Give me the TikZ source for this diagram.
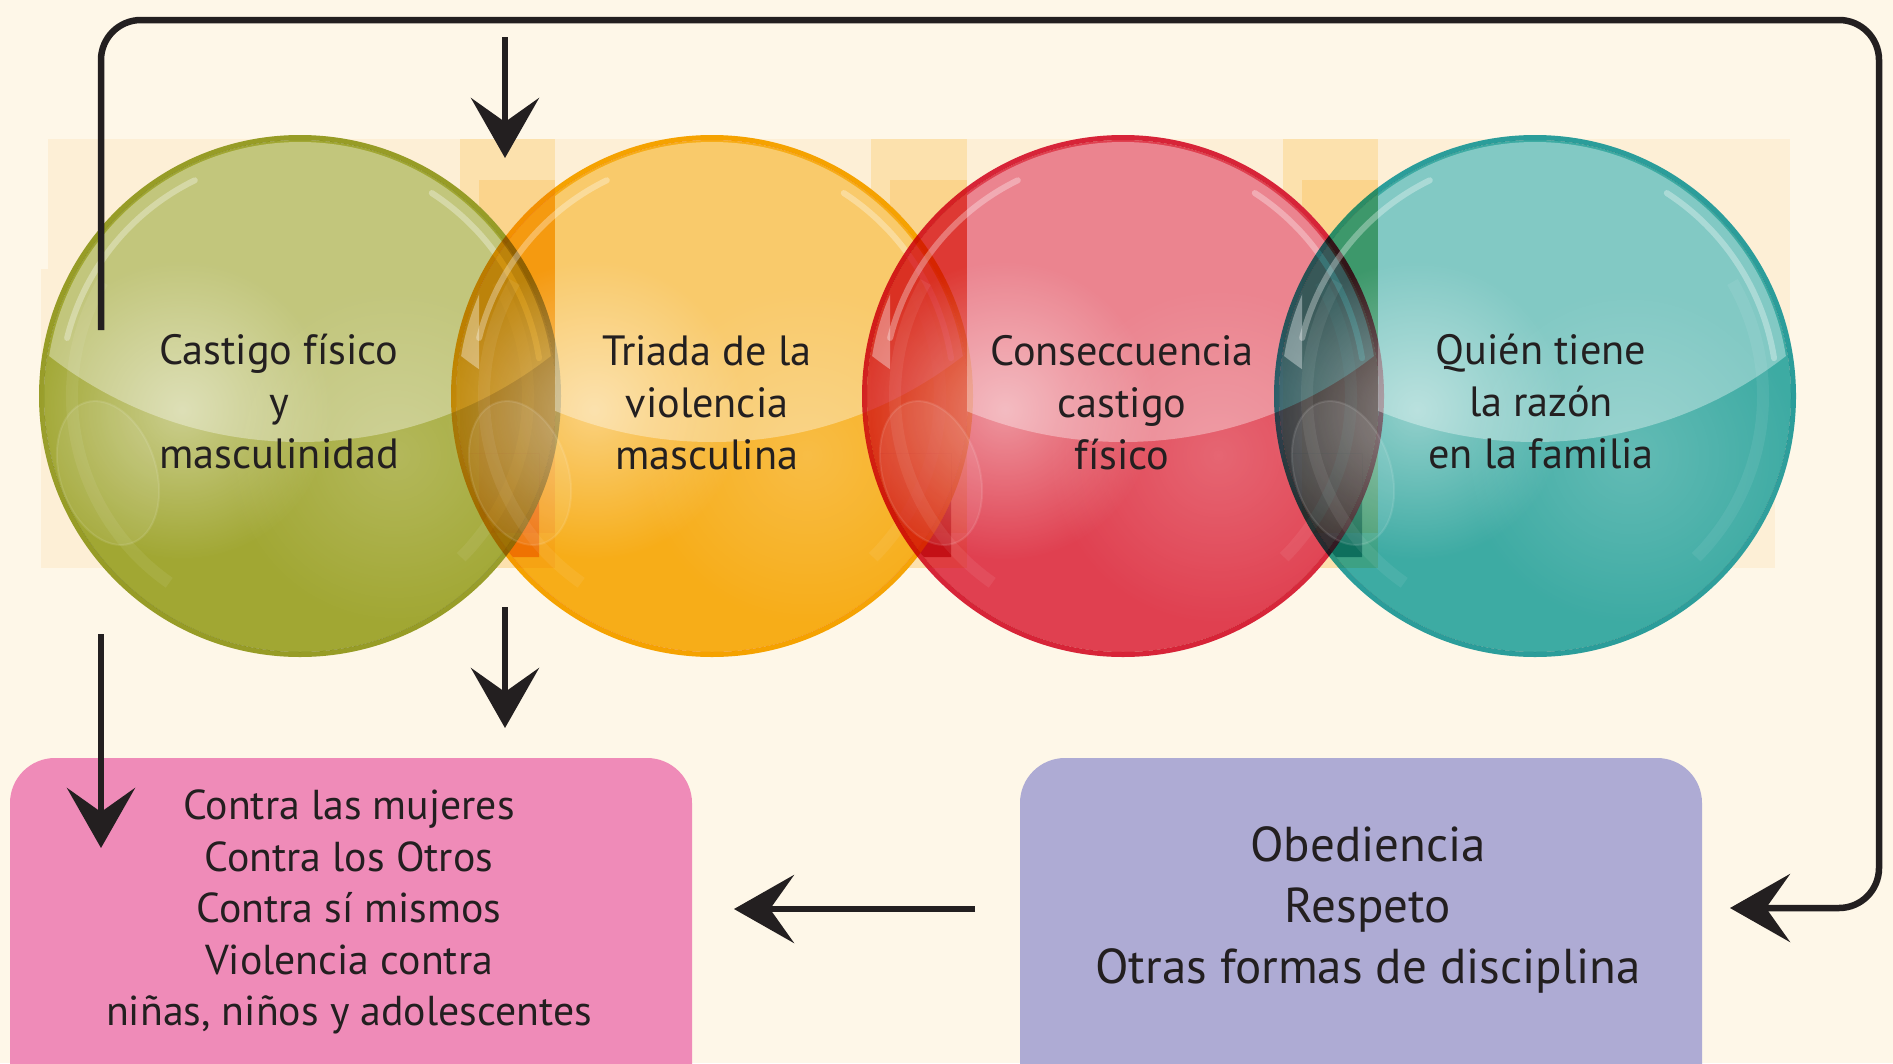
\documentclass[tikz,border=0pt]{standalone}
\usepackage{fontspec}
\setmainfont{PT Sans}
\usetikzlibrary{arrows.meta,fadings}
\definecolor{bg}{RGB}{254,247,232}
\definecolor{band}{RGB}{253,239,214}
\definecolor{ghost}{RGB}{254,241,207}
\definecolor{ink}{RGB}{35,31,32}
\definecolor{cgreen}{RGB}{162,173,57}
\definecolor{lgreen}{RGB}{152,162,42}
\definecolor{corange}{RGB}{248,179,27}
\definecolor{lorange}{RGB}{246,168,0}
\definecolor{cred}{RGB}{225,67,88}
\definecolor{lred}{RGB}{216,38,62}
\definecolor{cteal}{RGB}{62,177,180}
\definecolor{lteal}{RGB}{44,163,170}
\definecolor{cpink}{RGB}{239,139,184}
\definecolor{cpurple}{RGB}{174,171,212}
\tikzfading[name=glowfade, inner color=transparent!0, outer color=transparent!100]
\begin{document}
\begin{tikzpicture}[x=1pt,y=-1pt,
  conn/.style={draw=ink, line width=6.5pt, -{Stealth[length=60pt,width=68pt,inset=24pt]}},
  ctext/.style={align=center, text=ink, font=\fontsize{42.3}{52}\selectfont, inner sep=0pt},
  ptext/.style={align=center, text=ink, font=\fontsize{41.8}{51.5}\selectfont, inner sep=0pt},
  vtext/.style={align=center, text=ink, font=\fontsize{49}{61}\selectfont, inner sep=0pt},
  roundbox/.style={rectangle, rounded corners=45pt, minimum width=682pt, minimum height=420pt, inner sep=0pt},
  bubble/.style={circle, minimum size=512pt, inner sep=0pt, outer sep=0pt},
  streak/.style={white, line width=6pt, line cap=round, draw opacity=0.32},
  ringhl/.style={white, line width=12pt, draw opacity=0.07},
]
\useasboundingbox (0,0) rectangle (1893,1063);
\fill[bg] (0,0) rectangle (1893,1063);
\begin{scope}
\clip (0,0) rectangle (1893,1063);
% faint background band
\fill[band] (48,139) rectangle (1790,373);
\fill[band] (41,269) rectangle (1775,568);
\begin{scope}[blend mode=multiply]
\foreach \a/\b in {300/712,712/1123,1123/1535}{
  \fill[ghost] (\b-252,139) rectangle (\a+255,568);
  \fill[ghost] (\b-233,180) rectangle (\a+255,533);
}
\end{scope}
% knock out band under circles
\foreach \cx in {300,712,1123,1535} \fill[bg] (\cx,396) circle (261);
\begin{scope}[blend mode=multiply]
\foreach \a/\b in {300/712,712/1123,1123/1535}{
  \begin{scope}
  \clip (\b,396) circle (261);
  \fill[ghost] (\b-252,139) rectangle (\a+255,568);
  \fill[ghost] (\b-233,180) rectangle (\a+255,533);
  \end{scope}
}
\end{scope}
% bubbles
\foreach \cx/\fc/\lc/\nm/\pv/\sl/\sr in {300/cgreen/lgreen/c1/0/0/0, 712/corange/lorange/c2/300/479/555, 1123/cred/lred/c3/712/890/967, 1535/cteal/lteal/c4/1123/1302/1378}{
  \begin{scope}[blend mode=multiply]
    \node[bubble, fill=\fc] (\nm) at (\cx,396) {};
    \draw[\lc, line width=5pt] (\cx,396) circle (258.5);
  \end{scope}
  \ifnum\pv>0
  \begin{scope}[blend mode=multiply]
    \clip (\cx,396) circle (256);
    \clip (\cx-243,453) rectangle (\pv+239,557);
    \fill[\fc, even odd rule] (\cx-243,453) rectangle (\pv+239,557) (\pv,396) circle (261);
  \end{scope}
  \fi
  % glossy cap
  \begin{scope}
    \clip (\cx,396) circle (254);
    \clip (\cx,33) circle (409);
    \fill[white, fill opacity=0.36, even odd rule] (-10,-10) rectangle (1900,1100) (\sl,180) rectangle (\sr,453);
  \end{scope}
  % soft glows
  \fill[white, fill opacity=0.45, path fading=glowfade] (\cx-118,410) circle (150);
  \fill[white, fill opacity=0.2, path fading=glowfade] (\cx+95,455) circle (170);
  % streaks
  \draw[streak] (\cx,396) ++(-116:240) arc[start angle=-116, end angle=-166, radius=240];
  \draw[streak] (\cx,396) ++(-57:242) arc[start angle=-57, end angle=-9, radius=242];
  % inner light ring
  \draw[ringhl] (\cx,396) ++(-150:228) arc[start angle=-150, end angle=-235, radius=228];
  \draw[ringhl] (\cx,396) ++(45:228) arc[start angle=45, end angle=-30, radius=228];
  % lower-left oval
  \fill[white, fill opacity=0.09, rotate around={18:(\cx-192,473)}] (\cx-192,473) ellipse[x radius=48, y radius=74];
  \draw[white, draw opacity=0.1, line width=2pt, rotate around={18:(\cx-192,473)}] (\cx-192,473) ellipse[x radius=48, y radius=74];
}
% texts in bubbles
\node[ctext] (t1) at (279,402) {Castigo físico\\y\\masculinidad};
\node[ctext] (t2) at (707,403) {Triada de la\\violencia\\masculina};
\node[ctext] (t3) at (1122,403) {Conseccuencia\\castigo\\físico};
\node[ctext] (t4) at (1541,402) {Quién tiene\\la razón\\en la familia};
% boxes
\node[roundbox, fill=cpink] (pinkbox) at (351,968) {};
\node[roundbox, fill=cpurple] (purplebox) at (1361,968) {};
\node[ptext] (pinktext) at (349,912) {Contra las mujeres\\Contra los Otros\\Contra sí mismos\\Violencia contra\\niñas, niños y adolescentes};
\node[vtext] (purpletext) at (1368,910) {Obediencia\\Respeto\\Otras formas de disciplina};
% connectors
\coordinate (a1s) at (505,37);
\coordinate (a1e) at (505,158);
\coordinate (a2s) at (505,607);
\coordinate (a2e) at (505,728);
\coordinate (a3s) at (101,634);
\coordinate (a3e) at (101,848);
\coordinate (a4s) at (975,909);
\coordinate (a4e) at (734,909);
\coordinate (ls) at (101,330);
\coordinate (ltop) at (1879,20);
\coordinate (lcorner) at (1879,908);
\coordinate (le) at (1730,908);
\draw[conn] (a1s) -- (a1e);
\draw[conn] (a2s) -- (a2e);
\draw[conn] (a3s) -- (a3e);
\draw[conn] (a4s) -- (a4e);
\draw[conn, rounded corners=40pt] (ls) |- (ltop) -- (lcorner) -- (le);
\end{scope}
\end{tikzpicture}
\end{document}
